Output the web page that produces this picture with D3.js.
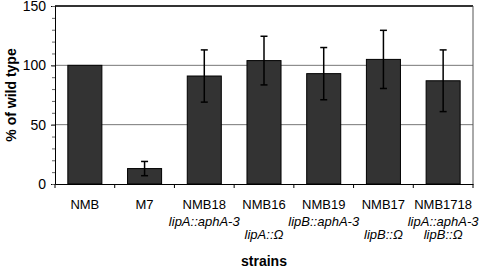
<!DOCTYPE html>
<html><head><meta charset="utf-8">
<script src="https://cdn.jsdelivr.net/npm/d3@7"></script>
<style>body{margin:0;background:#fff}svg{display:block;font-family:"Liberation Sans",Arial,sans-serif}</style>
</head><body><svg id="c" width="480" height="268"></svg>
<script>
const strains = ["NMB","M7","NMB18","NMB16","NMB19","NMB17","NMB1718"];
const genotypes = [[],[],["lipA::aphA-3"],["","lipA::Ω"],["lipB::aphA-3"],["","lipB::Ω"],["lipA::aphA-3","lipB::Ω"]];
const values = [100,13,91,104,93,105,87];
const errors = [null,6,22,20.5,22,24.5,26];
const yTicks = [0,50,100,150];

const svg = d3.select("#c");
const L=55, R=473, T=6, B=184;
const x = d3.scaleBand().domain(strains).range([L,R]).paddingInner(0.43).paddingOuter(0.215);
const y = d3.scaleLinear().domain([0,150]).range([B,T]);

// gridlines
svg.append("g").selectAll("line").data([50,100]).join("line")
  .attr("x1",L).attr("x2",R).attr("y1",d=>y(d)).attr("y2",d=>y(d))
  .attr("stroke","#777").attr("stroke-width",1);
// top & right border
svg.append("line").attr("x1",L).attr("x2",R).attr("y1",y(150)).attr("y2",y(150)).attr("stroke","#333").attr("stroke-width",2);
svg.append("line").attr("x1",R).attr("x2",R).attr("y1",y(150)).attr("y2",B).attr("stroke","#555").attr("stroke-width",1);

// bars
svg.append("g").selectAll("rect").data(values).join("rect")
  .attr("x",(d,i)=>x(strains[i])).attr("width",x.bandwidth())
  .attr("y",d=>y(d)).attr("height",d=>B-y(d))
  .attr("fill","#333").attr("stroke","#000").attr("stroke-width",1);

// error bars
const eg = svg.append("g").attr("stroke","#000").attr("stroke-width",1.5);
values.forEach((v,i)=>{
  if(errors[i]==null) return;
  const cx = x(strains[i])+x.bandwidth()/2;
  eg.append("line").attr("x1",cx).attr("x2",cx).attr("y1",y(v+errors[i])).attr("y2",y(v-errors[i]));
  [v+errors[i],v-errors[i]].forEach(e=>eg.append("line").attr("x1",cx-3.5).attr("x2",cx+3.5).attr("y1",y(e)).attr("y2",y(e)));
});

// y axis
const ya = svg.append("g").attr("transform",`translate(${L},0)`)
  .call(d3.axisLeft(y).tickValues(yTicks).tickSize(4).tickPadding(5).tickFormat(d3.format("d")));
ya.select(".domain").attr("stroke","#000");
ya.selectAll("text").attr("font-size",14).attr("fill","#000").attr("font-family","Liberation Sans, Arial, sans-serif");
svg.append("g").attr("transform",`translate(${L},0)`)
  .call(d3.axisLeft(y).tickValues(d3.range(0,151,10)).tickSize(3).tickFormat(""))
  .call(g=>g.select(".domain").remove()).selectAll("line").attr("stroke","#666");

// x axis
const xa = svg.append("g").attr("transform",`translate(0,${B})`)
  .call(d3.axisBottom(x).tickSize(0).tickFormat(""));
xa.select(".domain").attr("stroke","#000");
svg.append("g").selectAll("line").data(d3.range(strains.length+1)).join("line")
  .attr("x1",i=>L+i*(R-L)/strains.length).attr("x2",i=>L+i*(R-L)/strains.length)
  .attr("y1",B).attr("y2",B+4).attr("stroke","#000");

// category labels
const lab = svg.append("g").attr("text-anchor","middle").attr("fill","#000");
strains.forEach((s,i)=>{
  const cx = x(s)+x.bandwidth()/2;
  lab.append("text").attr("x",cx).attr("y",209).attr("font-size",13).text(s);
  genotypes[i].forEach((g,j)=>{
    if(!g) return;
    lab.append("text").attr("x",cx).attr("y",226+j*13).attr("font-size",13).attr("font-style","italic").text(g);
  });
});

// axis titles
svg.append("text").attr("x",(L+R)/2).attr("y",266).attr("text-anchor","middle")
  .attr("font-size",14).attr("font-weight","bold").text("strains");
svg.append("text").attr("transform",`translate(16,${(T+B)/2}) rotate(-90)`).attr("text-anchor","middle")
  .attr("font-size",14).attr("font-weight","bold").text("% of wild type");
</script></body></html>
